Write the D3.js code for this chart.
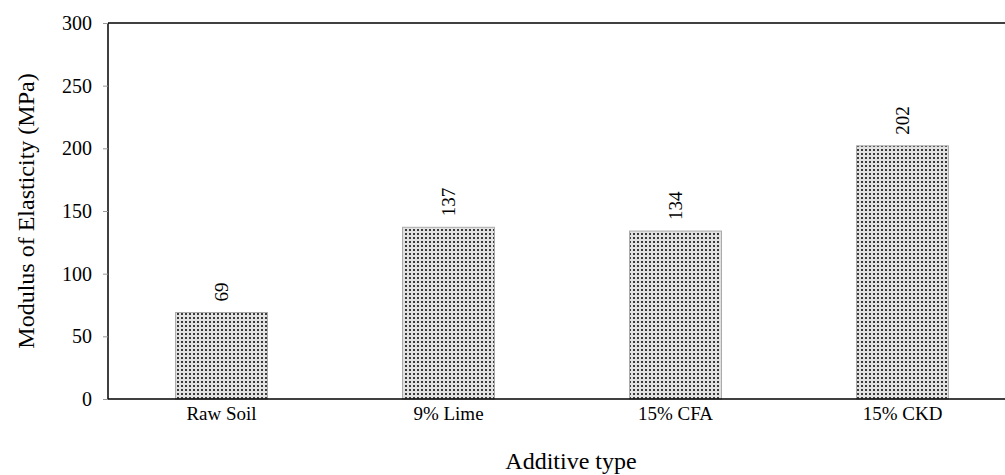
<!DOCTYPE html>
<html><head><meta charset="utf-8">
<script src="https://cdn.jsdelivr.net/npm/d3@7"></script>
<style>body{margin:0;background:#fff}svg text{font-family:'Liberation Serif','DejaVu Serif',serif !important}</style>
</head><body><svg id="c" width="1005" height="475"></svg>
<script>
const categories = ["Raw Soil","9% Lime","15% CFA","15% CKD"];
const values = [69,137,134,202];
const yTicks = [0,50,100,150,200,250,300];

const svg = d3.select("#c");
const m = {left:108, top:23, right:-11, bottom:76};
const W = 1005, H = 475;
const x = d3.scaleBand().domain(categories).range([m.left, W - m.right]).paddingInner(0.595).paddingOuter(0.2975);
const y = d3.scaleLinear().domain([0,300]).range([H - m.bottom, m.top]);

const defs = svg.append("defs");
const pat = defs.append("pattern").attr("id","dots").attr("patternUnits","userSpaceOnUse").attr("width",4).attr("height",4);
pat.append("rect").attr("width",4).attr("height",4).attr("fill","#e2e2e2");
pat.append("rect").attr("x",1).attr("y",1).attr("width",2).attr("height",2).attr("fill","#3a3a3a");

svg.append("line").attr("x1",m.left).attr("x2",W+5).attr("y1",y(300)).attr("y2",y(300)).attr("stroke","#000").attr("stroke-width",1.5);

svg.selectAll("rect.bar").data(values).join("rect").attr("class","bar")
  .attr("x",(d,i)=>x(categories[i])).attr("width",x.bandwidth())
  .attr("y",d=>y(d)).attr("height",d=>y(0)-y(d))
  .attr("fill","url(#dots)").attr("stroke","#aaa").attr("stroke-width",1);

svg.selectAll("text.val").data(values).join("text").attr("class","val")
  .attr("transform",(d,i)=>`translate(${x(categories[i])+x.bandwidth()/2+6},${y(d)-11}) rotate(-90)`)
  .attr("text-anchor","start").attr("font-size",19).attr("fill","#000").text(d=>d);

const ya = svg.append("g").attr("transform",`translate(${m.left},0)`)
  .call(d3.axisLeft(y).tickValues(yTicks).tickSize(5).tickPadding(11));
ya.attr("font-family",null);
ya.select(".domain").attr("stroke","#000").attr("stroke-width",1.5).attr("d",`M0,${y(300)}V${y(0)}`);
ya.selectAll(".tick line").attr("stroke","#999");
ya.selectAll("text").attr("font-size",20).attr("fill","#000");

const xa = svg.append("g").attr("transform",`translate(0,${y(0)})`)
  .call(d3.axisBottom(x).tickSize(0).tickPadding(8));
xa.attr("font-family",null);
xa.select(".domain").attr("stroke","#000").attr("stroke-width",1.5).attr("d",`M${m.left},0H${W+5}`);
xa.selectAll("text").attr("font-size",19).attr("fill","#000");

svg.append("text").attr("x",571).attr("y",469)
  .attr("text-anchor","middle").attr("font-size",24).attr("fill","#000").text("Additive type");
svg.append("text").attr("transform",`translate(34,${(y(0)+y(300))/2}) rotate(-90)`)
  .attr("text-anchor","middle").attr("font-size",24).attr("fill","#000").text("Modulus of Elasticity (MPa)");
</script></body></html>
